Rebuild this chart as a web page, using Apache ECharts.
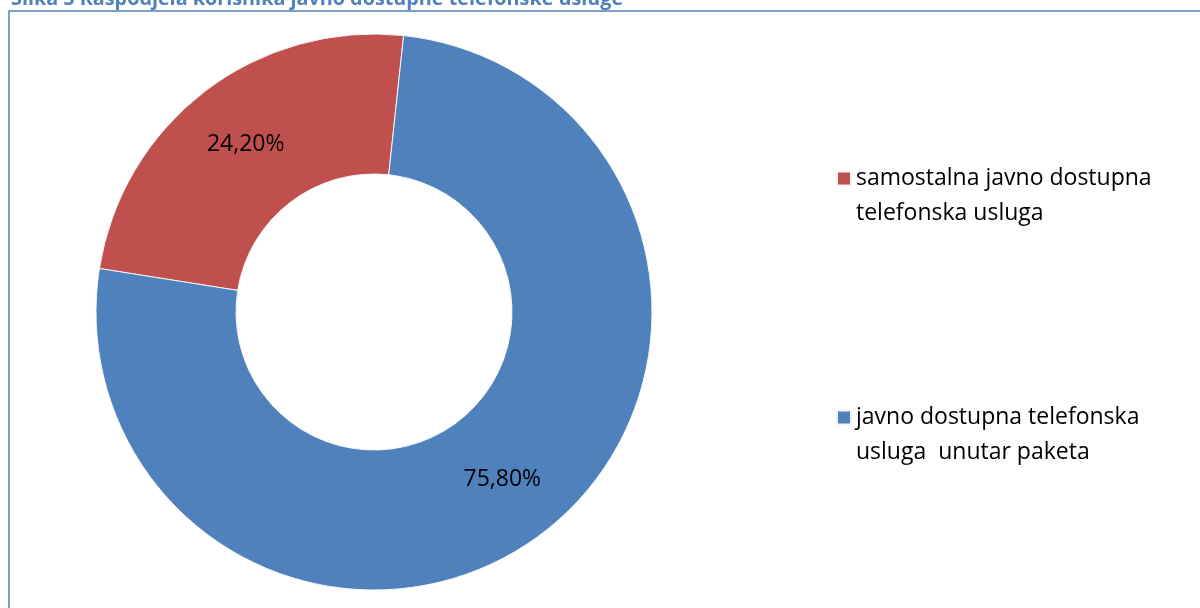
<!DOCTYPE html>
<html>
<head>
<meta charset="utf-8">
<script src="https://cdn.jsdelivr.net/npm/echarts@6/dist/echarts.min.js"></script>
<style>html,body{margin:0;padding:0;background:#fff;}#c{width:1200px;height:608px;}</style>
</head>
<body>
<div id="c"></div>
<script>
const titleText = 'Slika 5 Raspodjela korisnika javno dostupne telefonske usluge';
const categories = ['samostalna javno dostupna telefonska usluga', 'javno dostupna telefonska usluga  unutar paketa'];
const legendLines = [['samostalna javno dostupna', 'telefonska usluga'], ['javno dostupna telefonska', 'usluga  unutar paketa']];
const values = [24.2, 75.8];
const colors = ['#C0504D', '#4F81BD'];

const font = 'Open Sans';
const chart = echarts.init(document.getElementById('c'));
const legendFor = (i, top) => ({
  data: [categories[i]],
  left: 831,
  top: top,
  orient: 'vertical',
  icon: 'rect',
  itemWidth: 14,
  itemHeight: 14,
  itemGap: 0,
  selectedMode: false,
  formatter: () => '\n' + legendLines[i].join('\n'),
  textStyle: { fontFamily: font, fontSize: 23, color: '#000', lineHeight: 35 }
});
chart.setOption({
  animation: false,
  title: {
    text: titleText,
    left: 6,
    top: -16,
    textStyle: { fontFamily: font, fontSize: 19.8, fontWeight: 'bold', color: '#4F81BD' }
  },
  graphic: [{
    type: 'rect',
    shape: { x: 9, y: 11, width: 1210, height: 620 },
    style: { fill: 'none', stroke: '#4F81BD', lineWidth: 1.5 },
    silent: true
  }],
  legend: [legendFor(0, 121), legendFor(1, 360)],
  series: [{
    type: 'pie',
    center: [374, 312],
    radius: [138, 278],
    startAngle: 171,
    clockwise: true,
    avoidLabelOverlap: false,
    itemStyle: { borderColor: '#f4f4f4', borderWidth: 1 },
    label: {
      show: true,
      position: 'inside',
      formatter: p => p.value.toFixed(2).replace('.', ',') + '%',
      fontFamily: font,
      fontSize: 23,
      color: '#000'
    },
    labelLine: { show: false },
    emphasis: { disabled: true },
    data: categories.map((n, i) => ({ name: n, value: values[i], itemStyle: { color: colors[i] } }))
  }]
});
</script>
</body>
</html>
